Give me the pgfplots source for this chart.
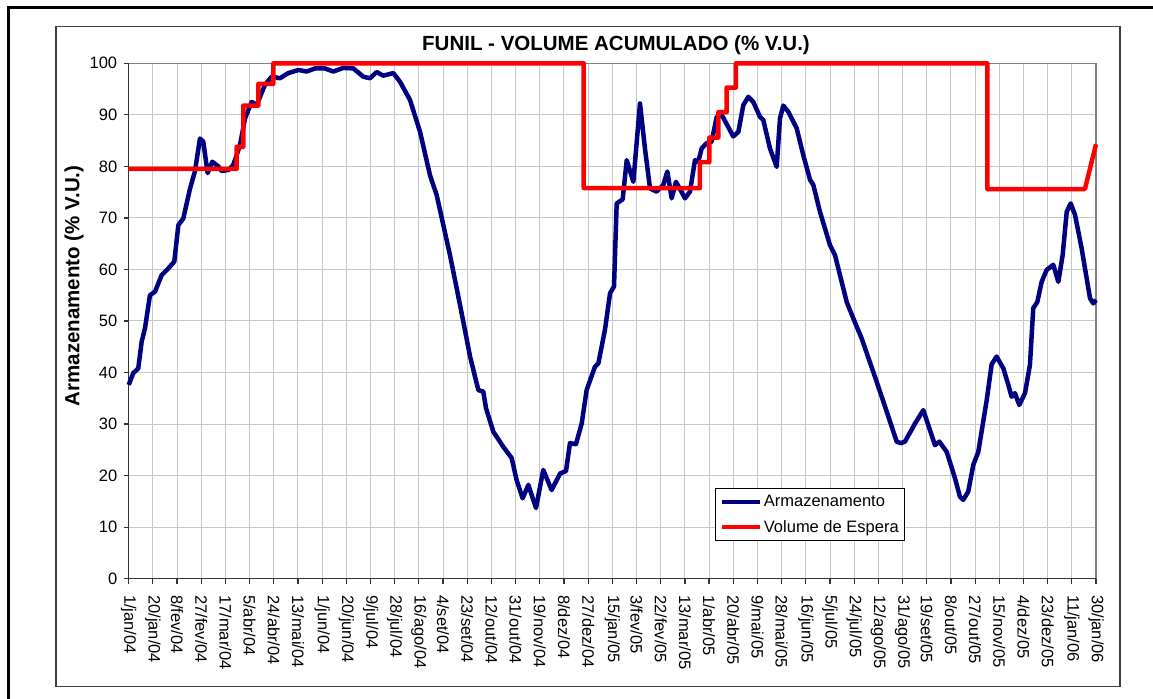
\documentclass[border=0pt]{standalone}
\usepackage{pgfplots}
\pgfplotsset{compat=1.18}
\usepackage{fontspec}
\setmainfont{Liberation Sans}
\definecolor{navyline}{HTML}{000080}
\definecolor{redline}{HTML}{FF0000}

\begin{document}
\begin{tikzpicture}[x=1bp,y=1bp]
\path[use as bounding box] (0,0) rectangle (1153,699);
\fill[white] (0,0) rectangle (1153,699);
\draw[black, line width=2.6bp] (8.7,-10) -- (8.7,691.2) -- (1170,691.2);
\draw[black!75, line width=1.2bp] (56,12.3) rectangle (1120,672.3);
\node[font=\bfseries\fontsize{20.5bp}{22bp}\selectfont] at (616,654) {FUNIL - VOLUME ACUMULADO (\% V.U.)};
\node[rotate=90, font=\bfseries\fontsize{20.5bp}{22bp}\selectfont] at (74,413) {Armazenamento (\% V.U.)};
\begin{axis}[
  at={(128.7bp,120.3bp)}, anchor=south west,
  width=967.3bp, height=515.4bp, scale only axis,
  xmin=0, xmax=760, ymin=0, ymax=100,
  xtick={0,19,...,760},
  xticklabels={1/jan/04,20/jan/04,8/fev/04,27/fev/04,17/mar/04,5/abr/04,24/abr/04,13/mai/04,1/jun/04,20/jun/04,9/jul/04,28/jul/04,16/ago/04,4/set/04,23/set/04,12/out/04,31/out/04,19/nov/04,8/dez/04,27/dez/04,15/jan/05,3/fev/05,22/fev/05,13/mar/05,1/abr/05,20/abr/05,9/mai/05,28/mai/05,16/jun/05,5/jul/05,24/jul/05,12/ago/05,31/ago/05,19/set/05,8/out/05,27/out/05,15/nov/05,4/dez/05,23/dez/05,11/jan/06,30/jan/06},
  ytick={0,10,...,100},
  grid=major, major grid style={draw=black!22, line width=1bp},
  axis line style={draw=black!50, line width=1.5bp},
  tick align=outside, major tick length=5bp,
  tick style={draw=black!80, line width=1.2bp},
  xtick pos=bottom, ytick pos=left,
  ticklabel style={font=\fontsize{16.5bp}{18bp}\selectfont, text=black},
  /pgf/number format/assume math mode=true,
  xticklabel style={rotate=-90, anchor=west},
  xticklabel shift=8bp,
  yticklabel shift=3bp,
  clip=false,
  legend style={at={(0.606,0.176)}, anchor=north west, draw=black, line width=1bp,
    fill=white, inner xsep=4bp, inner ysep=5bp, font=\fontsize{16.5bp}{18bp}\selectfont,
    cells={anchor=west}, row sep=8bp},
  legend image code/.code={\draw[#1] (0bp,0bp) -- (38bp,0bp);},
]
\draw[black!80, line width=1.5bp] (rel axis cs:0,1) -- (rel axis cs:0,0) -- (rel axis cs:1,0);
\addplot[navyline, line width=4.5bp, line join=round] coordinates {
(0,37.6) (3.6,39.9) (7.5,40.8) (10.2,46) (12.8,48.6) (16.7,55) (20.7,55.7)
(25.9,58.9) (31.1,60.2) (35.8,61.5) (39,68.6) (42.9,69.9) (48.2,75.7) (52,79)
(56,85.4) (58.6,84.8) (62,78.7) (65.7,80.9) (70.4,80) (73,79.1) (78.3,79.3)
(82.2,80.3) (87.4,84.1) (91.4,89.3) (96.6,92.5) (100.6,91.9) (107,95.8)
(112.3,97.4) (118.9,97.1) (125.4,98.1) (133.3,98.7) (139.8,98.4) (146.4,99)
(154.2,99) (160.7,98.4) (168.6,99.1) (176.5,99) (184.3,97.4) (189.6,97.1)
(194.8,98.3) (200,97.6) (207.9,98.1) (213.2,96.4) (221,92.9) (228.9,86.7)
(236.7,78.3) (242,74.4) (252.4,62.8) (259.6,54) (264.2,48.2) (268.2,43.1)
(274.7,36.6) (278.6,36.3) (280.7,33.1) (286.5,28.5) (294.3,25.6) (300.9,23.4)
(304.8,19.1) (309.5,15.6) (314,18.2) (320,13.7) (325.7,21.1) (332.3,17.2)
(338.9,20.4) (343.6,20.9) (346.7,26.3) (351.4,26.1) (355.9,30.1) (359.8,36.6)
(366.3,41.1) (369,41.8) (374.2,48.3) (378.2,55.4) (381.3,56.7) (383.4,72.8)
(388.1,73.6) (391.3,81.2) (396.5,77) (401.7,92.2) (405.6,83.5) (409.6,75.7)
(414.8,75.1) (420,76.4) (423.2,79) (426.6,73.8) (430,77) (437.1,73.8)
(441,75.1) (444.9,81.2) (447.5,80.9) (450.2,83.5) (454.1,84.5) (458,84.8)
(462,89.6) (465.9,90) (475,85.8) (479,86.7) (482.9,91.9) (486.8,93.5)
(490.7,92.5) (496,89.6) (498.6,89) (503.8,83.5) (509.1,79.9) (511.7,89.3)
(514.3,91.8) (518.2,90.6) (524.8,87.4) (530,82.2) (535.3,77.4) (537.9,76.4)
(543.1,71.2) (551,64.7) (554.9,62.8) (564.1,53.7) (569.3,50.5) (575.9,46.6)
(587.7,38.2) (603.4,26.6) (606.5,26.3) (609.9,26.6) (617.8,30.1) (624.3,32.7)
(628.2,29.8) (633.5,25.9) (636.9,26.6) (642.7,24.6) (649.2,19.5) (653.1,15.9)
(655.7,15.3) (659.6,16.9) (663.6,22.1) (667.5,24.6) (674.1,34.6) (678,41.6)
(681.9,43.1) (687.2,40.8) (691.1,37.6) (693.7,35.3) (696.3,36) (699.7,33.7)
(704.2,36) (708.1,41.5) (710.7,52.5) (713.9,53.7) (717.3,57.6) (721.2,59.9)
(726.4,60.9) (730.4,57.6) (733.8,62.8) (737,71.2) (740.1,72.8) (743.5,70.6)
(748.7,64.1) (755.3,54.4) (757.9,53.4) (760,54.1)
};
\addlegendentry{Armazenamento}
\addplot[redline, line width=4.5bp, line join=round] coordinates {
(0,79.5) (84.8,79.5) (84.8,83.8) (90,83.8) (90,91.8) (101.9,91.8) (101.9,96)
(113.6,96) (113.6,100) (357.5,100) (357.5,75.8) (448.8,75.8) (448.8,80.8)
(456.2,80.8) (456.2,85.6) (463.3,85.6) (463.3,90.5) (469.8,90.5) (469.8,95.3)
(477.1,95.3) (477.1,100) (674.6,100) (674.6,75.6) (751.3,75.6) (760,84.3)
};
\addlegendentry{Volume de Espera}
\end{axis}
\end{tikzpicture}
\end{document}
